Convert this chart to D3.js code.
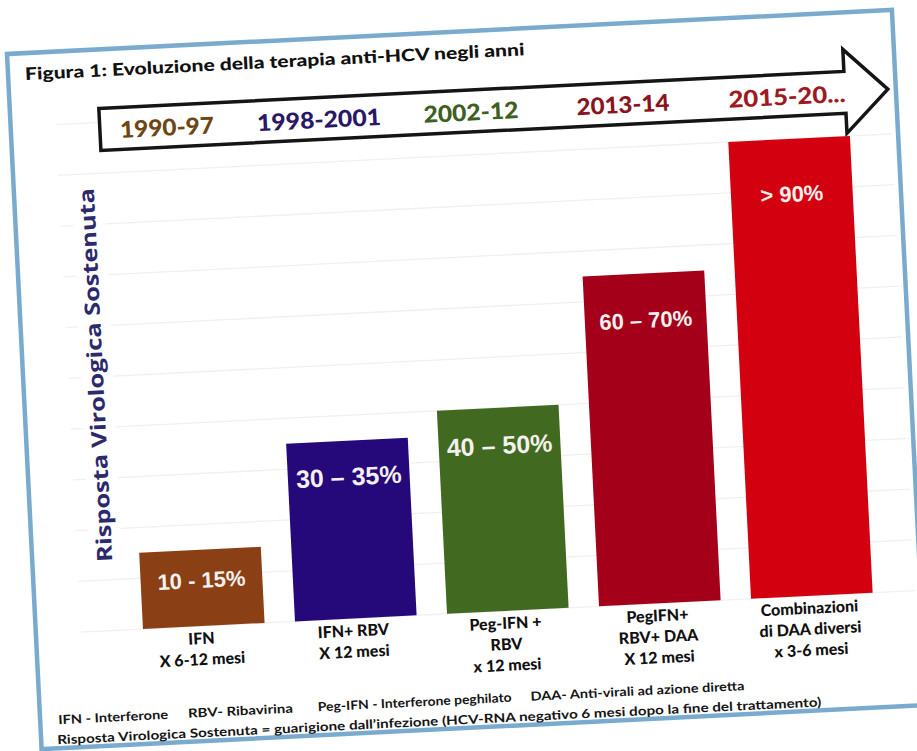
<!DOCTYPE html>
<html><head><meta charset="utf-8">
<script src="https://cdn.jsdelivr.net/npm/d3@7"></script>
<style>html,body{margin:0;padding:0;background:#fff;} svg{display:block;}</style>
</head><body>
<script>
// ---- data ----
const periods = ["1990-97", "1998-2001", "2002-12", "2013-14", "2015-20..."];
const therapies = [
  ["IFN", "X 6-12 mesi"],
  ["IFN+ RBV", "X 12 mesi"],
  ["Peg-IFN +", "RBV", "x 12 mesi"],
  ["PegIFN+", "RBV+ DAA", "X 12 mesi"],
  ["Combinazioni", "di DAA diversi", "x 3-6 mesi"]
];
const svrValues = [15, 35, 40, 65, 90];
const svrLabels = ["10 - 15%", "30 \u2013 35%", "40 \u2013 50%", "60 \u2013 70%", "> 90%"];
const gridTicks = [0, 10, 20, 30, 40, 50, 60, 70, 80, 90, 100];
const titleText = "Figura 1: Evoluzione della terapia anti-HCV negli anni";
const yAxisTitle = "Risposta Virologica Sostenuta";
const footLine1 = ["IFN - Interferone", "RBV- Ribavirina", "Peg-IFN - Interferone peghilato", "DAA- Anti-virali ad azione diretta"];
const footLine2 = "Risposta Virologica Sostenuta = guarigione dall\u2019infezione (HCV-RNA negativo 6 mesi dopo la fine del trattamento)";

// ---- styles ----
const barColors = ["#8a4014", "#25087a", "#41691f", "#a50019", "#d3000f"];
const periodColors = ["#6e4614", "#2a1866", "#3e5f1f", "#8a1420", "#9e1a22"];
const valueFontSizes = [22, 25, 25, 22, 22];

const W = 917, H = 751;
const svg = d3.select("body").append("svg").attr("width", W).attr("height", H);
svg.append("rect").attr("width", W).attr("height", H).attr("fill", "#fff");

const g = svg.append("g").attr("transform", "translate(7,54) rotate(-2.85)");

// frame
g.append("rect").attr("x", 0).attr("y", 0).attr("width", 886).attr("height", 696)
  .attr("fill", "#fff").attr("stroke", "#7aabcf").attr("stroke-width", 4.5);

// scales
const x = d3.scaleBand().domain(d3.range(periods.length)).range([92, 853])
  .paddingInner(0.2).paddingOuter(0.1);
const y = d3.scaleLinear().domain([0, 100]).range([581, 73]);

// gridlines
g.append("g").selectAll("line").data(gridTicks).join("line")
  .attr("x1", 45).attr("x2", 880)
  .attr("y1", d => y(d)).attr("y2", d => y(d))
  .attr("stroke", "#f0f0f0").attr("stroke-width", 1.3);

// title
g.append("text").attr("x", 17).attr("y", 27).text(titleText)
  .attr("font-family", "Lato, 'Open Sans', sans-serif").attr("font-weight", 900)
  .attr("font-size", 17).attr("fill", "#111")
  .attr("textLength", 500).attr("lengthAdjust", "spacingAndGlyphs");

// arrow
const arrowPts = [[89, 59], [835, 59], [835, 37], [878, 79], [835, 121], [835, 101], [89, 101]];
g.append("path").attr("d", d3.line()(arrowPts) + "Z")
  .attr("fill", "#fff").attr("stroke", "#151515").attr("stroke-width", 3.5)
  .attr("stroke-linejoin", "miter");

// period labels
const periodWidths = [94, 124, 95, 93, 117];
g.append("g").selectAll("text").data(periods).join("text")
  .attr("x", (d, i) => x(i) + x.bandwidth() / 2 - (i === 4 ? 0 : 12))
  .attr("y", 89.5)
  .attr("text-anchor", "middle")
  .attr("font-family", "Lato, 'Open Sans', sans-serif").attr("font-weight", 900)
  .attr("font-size", 23)
  .attr("fill", (d, i) => periodColors[i])
  .attr("textLength", (d, i) => periodWidths[i]).attr("lengthAdjust", "spacingAndGlyphs")
  .text(d => d);

// bars
g.append("g").selectAll("rect").data(svrValues).join("rect")
  .attr("x", (d, i) => x(i)).attr("width", x.bandwidth())
  .attr("y", d => y(d)).attr("height", d => y(0) - y(d))
  .attr("fill", (d, i) => barColors[i]);

// value labels
g.append("g").selectAll("text").data(svrValues).join("text")
  .attr("x", (d, i) => x(i) + x.bandwidth() / 2)
  .attr("y", d => y(d) + 25 + 0.065 * (y(0) - y(d)) + 8)
  .attr("text-anchor", "middle")
  .attr("font-family", "'Liberation Sans', Arial, sans-serif").attr("font-weight", 700)
  .attr("font-size", (d, i) => valueFontSizes[i])
  .attr("fill", "#f4f0ee")
  .text((d, i) => svrLabels[i]);

// y-axis title with white backing
g.append("rect").attr("x", 58).attr("y", 135).attr("width", 32).attr("height", 385).attr("fill", "#fff");
g.append("text")
  .attr("transform", "translate(80,325) rotate(-90)")
  .attr("text-anchor", "middle")
  .attr("font-family", "'Open Sans', Lato, sans-serif").attr("font-weight", 700)
  .attr("font-size", 21).attr("fill", "#2d2a6c")
  .attr("textLength", 374).attr("lengthAdjust", "spacingAndGlyphs")
  .text(yAxisTitle);

// therapy labels
const tg = g.append("g");
therapies.forEach((lines, i) => {
  const t = tg.append("text")
    .attr("text-anchor", "middle")
    .attr("font-family", "Lato, 'Open Sans', sans-serif").attr("font-weight", 900)
    .attr("font-size", 16).attr("fill", "#111");
  lines.forEach((ln, j) => {
    t.append("tspan").attr("x", x(i) + x.bandwidth() / 2 - 3).attr("y", 599 + j * 21).text(ln);
  });
});

// footnotes
const foot1X = [18, 148, 278, 491];
const foot1W = [110, 105, 194, 214];
const fg = g.append("g")
  .attr("font-family", "Lato, 'Open Sans', sans-serif").attr("font-weight", 700)
  .attr("font-size", 12.5).attr("fill", "#151515");
footLine1.forEach((s, i) => {
  fg.append("text").attr("x", foot1X[i]).attr("y", 672).text(s)
    .attr("textLength", foot1W[i]).attr("lengthAdjust", "spacingAndGlyphs");
});
fg.append("text").attr("x", 16).attr("y", 692).text(footLine2)
  .attr("textLength", 765).attr("lengthAdjust", "spacingAndGlyphs");
</script>
</body></html>
